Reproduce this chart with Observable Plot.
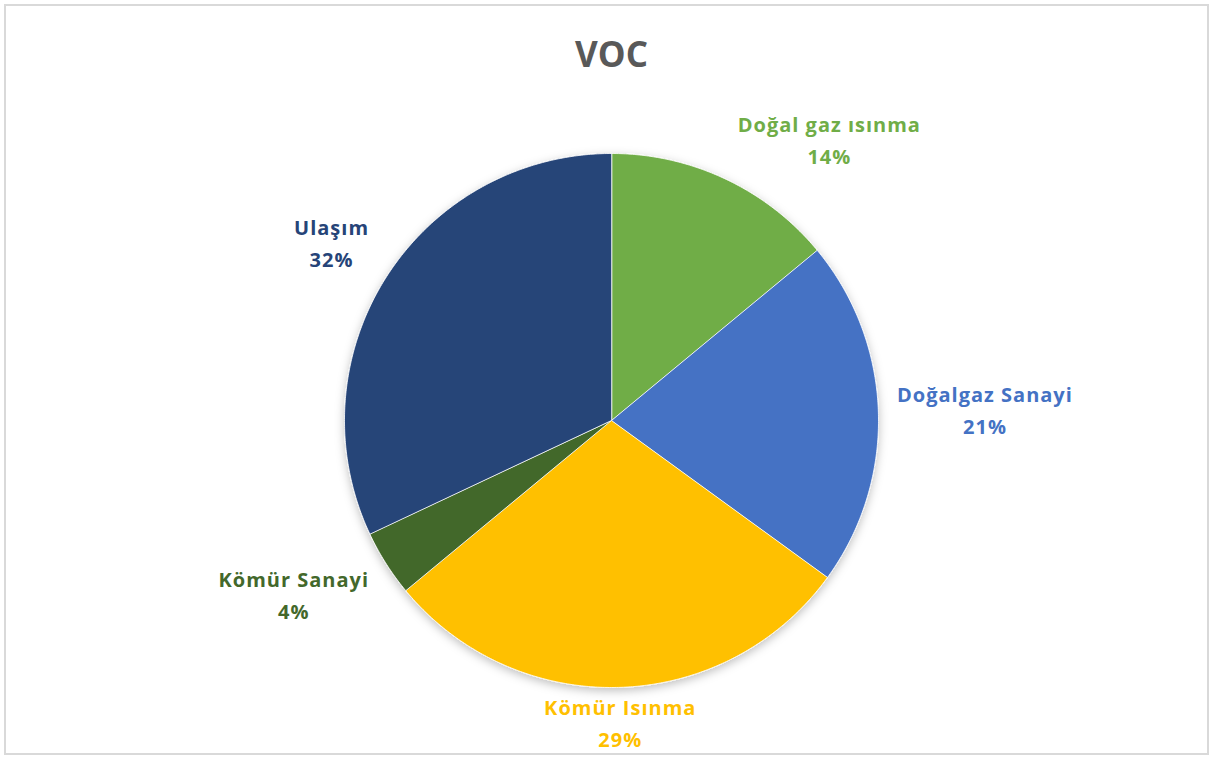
<!DOCTYPE html>
<html>
<head>
<meta charset="utf-8">
<script src="https://cdn.jsdelivr.net/npm/d3@7"></script>
<script src="https://cdn.jsdelivr.net/npm/@observablehq/plot@0.6"></script>
<style>
  html, body { margin: 0; padding: 0; background: #fff; }
  #frame { position: absolute; left: 4px; top: 4px; width: 1205px; height: 751px; border: 2px solid #d9d9d9; box-sizing: border-box; }
  #chart { position: absolute; left: 0; top: 0; }
  #chart text.lbl { letter-spacing: 1px; }
</style>
</head>
<body>
<div id="frame"></div>
<div id="chart"></div>
<script>
const title = "VOC";
const categories = ["Doğal gaz ısınma", "Doğalgaz Sanayi", "Kömür Isınma", "Kömür Sanayi", "Ulaşım"];
const shares = [14, 21, 29, 4, 32];
const colors = ["#70AD47", "#4472C4", "#FFC000", "#43682B", "#264478"];

const W = 1215, H = 758;
const cx = 611, cy = 420, R = 267;
const fontFamily = "'Open Sans', Lato, sans-serif";
const labelSize = 20;
const letterSpacing = 1;
const lineHeight = 1.6;

const pie = d3.pie().sort(null).value(d => d.value)(categories.map((name, i) => ({name, value: shares[i], color: colors[i]})));

// polygon points for each slice, in radius units (angle 0 at top, clockwise)
const pts = [];
for (const s of pie) {
  const n = Math.max(4, Math.ceil((s.endAngle - s.startAngle) / (Math.PI / 360)));
  pts.push({name: s.data.name, x: 0, y: 0});
  for (let k = 0; k <= n; k++) {
    const a = s.startAngle + (s.endAngle - s.startAngle) * k / n;
    pts.push({name: s.data.name, x: Math.sin(a), y: Math.cos(a)});
  }
}

// label placement: outside the pie along the mid-angle
const ctx = document.createElement("canvas").getContext("2d");
ctx.font = `bold ${labelSize}px 'Open Sans'`;
const measure = t => ctx.measureText(t).width + letterSpacing * t.length;
const lineH = labelSize * lineHeight;
const labels = pie.map(s => {
  const a = (s.startAngle + s.endAngle) / 2;
  const sn = Math.sin(a), cs = Math.cos(a);
  const text = `${s.data.name}\n${Math.round(s.data.value)}%`;
  const w = Math.max(...text.split("\n").map(measure)) / R;
  const h = (lineH * 2 - 10) / R;
  const r = 1.04;
  let x = r * sn, y = r * cs;
  if (Math.abs(sn) > 0.3) x += Math.sign(sn) * (w / 2 + 8 / R);
  if (Math.abs(cs) > 0.3) y += Math.sign(cs) * h / 2;
  return {text, x, y, color: s.data.color};
});

const plot = Plot.plot({
  width: W,
  height: H,
  margin: 0,
  style: {fontFamily, background: "transparent"},
  x: {domain: [-1, 1], range: [cx - R, cx + R], axis: null},
  y: {domain: [-1, 1], range: [cy + R, cy - R], axis: null},
  color: {domain: categories, range: colors},
  marks: [
    Plot.line(pts, {x: "x", y: "y", z: "name", fill: "name", stroke: "white", strokeWidth: 0.8, curve: "linear-closed", className: "pie"}),
    Plot.text(labels, {x: "x", y: "y", text: "text", fill: "color", fontSize: labelSize, fontWeight: "bold", lineHeight, textAnchor: "middle", lineAnchor: "middle", dy: -4, className: "lbl"}),
    Plot.text([title], {x: 0, frameAnchor: "top", dy: 55, text: d => d, fill: "#595959", fontSize: 35, fontWeight: "bold", lineAnchor: "middle"})
  ]
});

// soft drop shadow under the pie
const svg = d3.select(plot);
svg.selectAll("g.lbl text").style("letter-spacing", `${letterSpacing}px`);
const defs = svg.insert("defs", ":first-child");
const f = defs.append("filter").attr("id", "pieShadow").attr("x", "-20%").attr("y", "-20%").attr("width", "140%").attr("height", "140%");
f.append("feDropShadow").attr("dx", 0).attr("dy", 3).attr("stdDeviation", 5).attr("flood-color", "#000").attr("flood-opacity", 0.25);
svg.select("g.pie").attr("filter", "url(#pieShadow)");

document.getElementById("chart").appendChild(plot);
</script>
</body>
</html>
